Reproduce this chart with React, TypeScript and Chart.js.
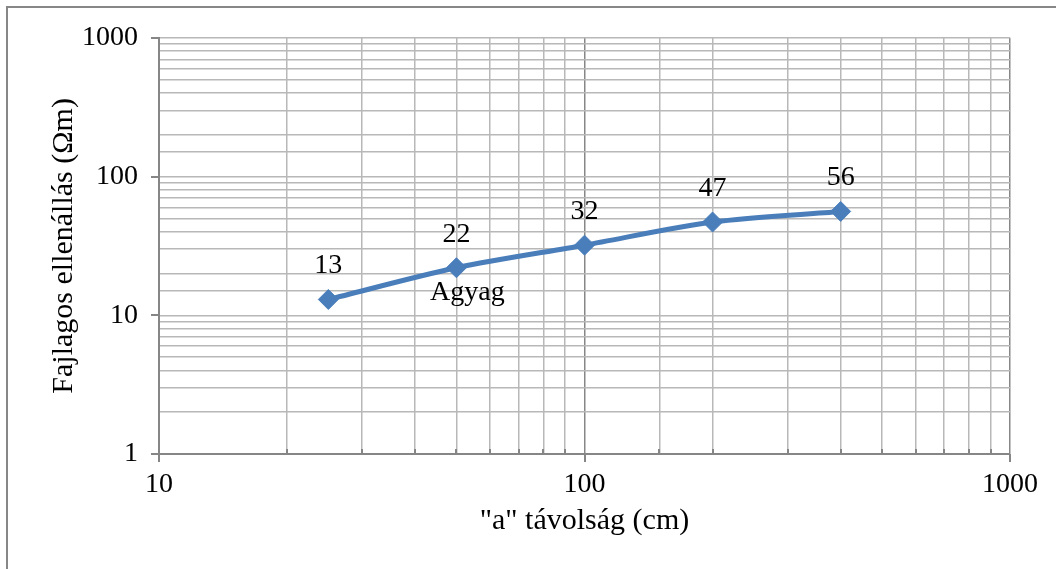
import React, { useEffect, useRef } from "react";
import { Chart, registerables } from "chart.js";

Chart.register(...registerables);

// ---- data ----
const distancesCm = [25, 50, 100, 200, 400];
const resistivityOhmM = [13, 22, 32, 47, 56];
const pointNotes = ["", "Agyag", "", "", ""];
const xAxisTitle = '"a" távolság (cm)';
const yAxisTitle = "Fajlagos ellenállás (Ωm)";
const xRange = [10, 1000];
const yRange = [1, 1000];

const FONT = "'Liberation Serif', 'Times New Roman', serif";
const LINE_COLOR = "#4a7ebb";
const AXIS_COLOR = "#868686";
const MINOR_GRID = "#b8b8b8";
const MAJOR_GRID = "#878787";

const isPow10 = (v: number) => {
  const l = Math.log10(v);
  return Math.abs(l - Math.round(l)) < 1e-9;
};

const labelsPlugin = {
  id: "pointLabels",
  afterDatasetsDraw(chart: any) {
    const { ctx } = chart;
    const meta = chart.getDatasetMeta(0);
    ctx.save();
    ctx.fillStyle = "#000";
    ctx.font = `28px ${FONT}`;
    ctx.textAlign = "center";
    ctx.textBaseline = "alphabetic";
    meta.data.forEach((pt: any, i: number) => {
      ctx.fillText(String(resistivityOhmM[i]), pt.x, pt.y - 26);
      if (pointNotes[i]) {
        ctx.fillText(pointNotes[i], pt.x + 11, pt.y + 32);
      }
    });
    ctx.restore();
  },
};

const ticksPlugin = {
  id: "axisTicks",
  afterDraw(chart: any) {
    const { ctx, chartArea } = chart;
    const xs = chart.scales.x;
    const ys = chart.scales.y;
    ctx.save();
    ctx.strokeStyle = AXIS_COLOR;
    ctx.lineWidth = 2;
    ctx.beginPath();
    xs.ticks.forEach((t: any) => {
      const px = Math.round(xs.getPixelForValue(t.value));
      if (isPow10(t.value)) {
        ctx.moveTo(px, chartArea.bottom);
        ctx.lineTo(px, chartArea.bottom + 8);
      } else {
        ctx.moveTo(px, chartArea.bottom);
        ctx.lineTo(px, chartArea.bottom - 5);
      }
    });
    ys.ticks.forEach((t: any) => {
      if (isPow10(t.value)) {
        const py = Math.round(ys.getPixelForValue(t.value));
        ctx.moveTo(chartArea.left - 8, py);
        ctx.lineTo(chartArea.left, py);
      }
    });
    ctx.stroke();
    ctx.restore();
  },
};

export default function App() {
  const ref = useRef<HTMLCanvasElement | null>(null);

  useEffect(() => {
    if (!ref.current) return;
    const chart = new Chart(ref.current, {
      type: "line",
      data: {
        datasets: [
          {
            data: distancesCm.map((x, i) => ({ x, y: resistivityOhmM[i] })),
            borderColor: LINE_COLOR,
            backgroundColor: LINE_COLOR,
            borderWidth: 5,
            pointStyle: "rectRot",
            pointRadius: 10,
            pointHoverRadius: 10,
            pointBackgroundColor: LINE_COLOR,
            pointBorderColor: LINE_COLOR,
            pointBorderWidth: 1,
            tension: 0.3,
          },
        ],
      },
      options: {
        responsive: false,
        animation: false,
        events: [],
        layout: { padding: { left: 0, right: 46, top: 37, bottom: 0 } },
        plugins: {
          legend: { display: false },
          tooltip: { enabled: false },
        },
        scales: {
          x: {
            type: "logarithmic",
            position: "bottom",
            min: xRange[0],
            max: xRange[1],
            afterFit: (s: any) => {
              s.height = 115;
            },
            border: { display: true, color: AXIS_COLOR, width: 2 },
            grid: {
              drawTicks: false,
              lineWidth: 1.5,
              color: (c: any) =>
                c.tick && isPow10(c.tick.value) ? MAJOR_GRID : MINOR_GRID,
            },
            ticks: {
              autoSkip: false,
              maxRotation: 0,
              padding: 14,
              color: "#000",
              font: { family: FONT, size: 28 },
              callback: (v: any) => (isPow10(Number(v)) ? String(v) : ""),
            },
            title: {
              display: true,
              text: xAxisTitle,
              color: "#000",
              font: { family: FONT, size: 30 },
              padding: { top: 0, bottom: 30 },
            },
          },
          y: {
            type: "logarithmic",
            min: yRange[0],
            max: yRange[1],
            afterFit: (s: any) => {
              s.width = 159;
            },
            border: { display: true, color: AXIS_COLOR, width: 2 },
            grid: {
              drawTicks: false,
              lineWidth: 1.5,
              color: MINOR_GRID,
            },
            ticks: {
              autoSkip: false,
              padding: 21,
              color: "#000",
              font: { family: FONT, size: 28 },
              callback: (v: any) => (isPow10(Number(v)) ? String(v) : ""),
            },
            title: {
              display: true,
              text: yAxisTitle,
              color: "#000",
              font: { family: FONT, size: 30 },
              padding: { top: 46, bottom: 0 },
            },
          },
        },
      },
      plugins: [labelsPlugin, ticksPlugin],
    });
    return () => chart.destroy();
  }, []);

  return (
    <>
      <style>{`html,body{margin:0;padding:0;overflow:hidden;background:#fff}`}</style>
      <div
        style={{
          position: "fixed",
          left: 6,
          top: 6,
          width: 1100,
          height: 700,
          border: "2px solid #878787",
          boxSizing: "border-box",
        }}
      />
      <canvas
        ref={ref}
        width={1056}
        height={569}
        style={{ position: "fixed", left: 0, top: 0, width: 1056, height: 569 }}
      />
    </>
  );
}
